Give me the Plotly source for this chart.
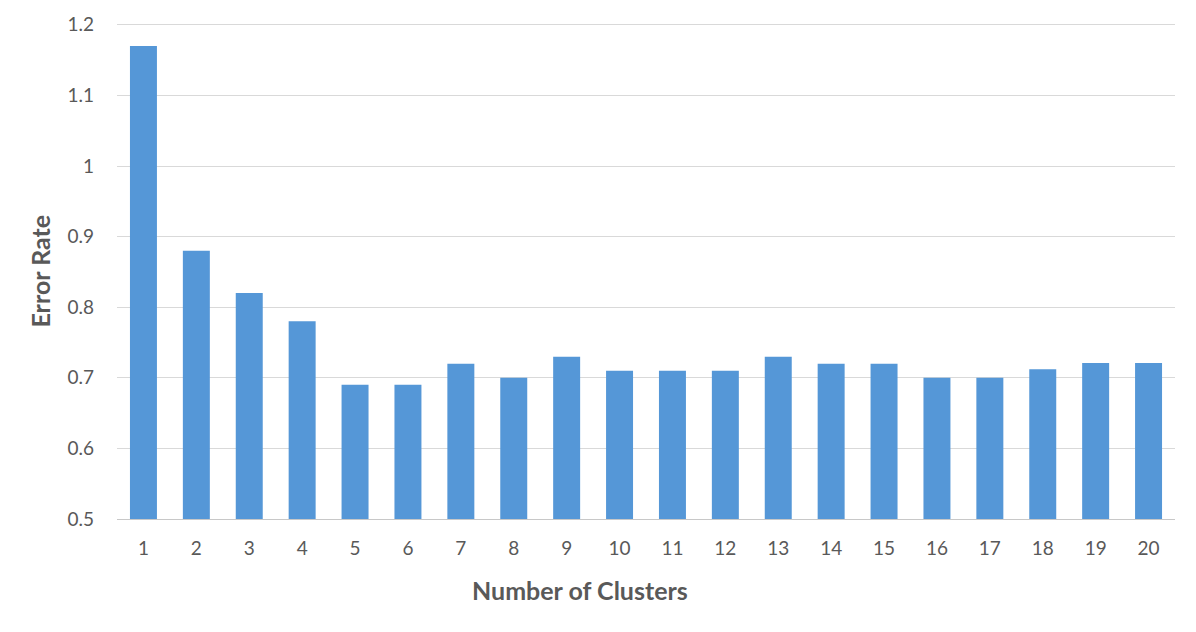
import plotly.graph_objects as go

clusters = [str(i) for i in range(1, 21)]
error_rate = [1.17, 0.88, 0.82, 0.78, 0.69, 0.69, 0.72, 0.70, 0.73, 0.71,
              0.71, 0.71, 0.73, 0.72, 0.72, 0.70, 0.70, 0.712, 0.721, 0.721]
y_ticks = [0.5, 0.6, 0.7, 0.8, 0.9, 1.0, 1.1, 1.2]
y_tick_text = ["0.5", "0.6", "0.7", "0.8", "0.9", "1", "1.1", "1.2"]

fig = go.Figure(go.Bar(
    x=clusters, y=error_rate, base=0,
    marker=dict(color="#5597d7", line=dict(width=0)),
))

fig.update_layout(
    width=1180, height=616,
    margin=dict(l=109, r=13, t=14, b=105, autoexpand=False),
    paper_bgcolor="white", plot_bgcolor="white",
    bargap=0.49,
    showlegend=False,
    font=dict(family="Lato, Open Sans, sans-serif", color="#595959"),
    xaxis=dict(
        type="category", automargin=False,
        tickfont=dict(size=19, color="#595959"),
        ticks="", showgrid=False, showline=True, linecolor="#c8c8c8", linewidth=1,
        ticklabelstandoff=12,
    ),
    yaxis=dict(
        range=[0.5, 1.204], automargin=False,
        tickvals=y_ticks, ticktext=y_tick_text,
        tickfont=dict(size=19, color="#595959"),
        showgrid=True, gridcolor="#d9d9d9", gridwidth=1,
        zeroline=False, ticks="", ticklabelstandoff=22,
    ),
    annotations=[
        dict(text="<b>Number of Clusters</b>", xref="paper", yref="paper",
             x=0.4376, y=-0.1437, xanchor="center", yanchor="middle",
             showarrow=False, font=dict(size=25, color="#595959")),
        dict(text="<b>Error Rate</b>", xref="paper", yref="paper",
             x=-0.0728, y=0.5, xanchor="center", yanchor="middle", textangle=-90,
             showarrow=False, font=dict(size=25, color="#595959")),
    ],
)

fig.write_html("out.html")
